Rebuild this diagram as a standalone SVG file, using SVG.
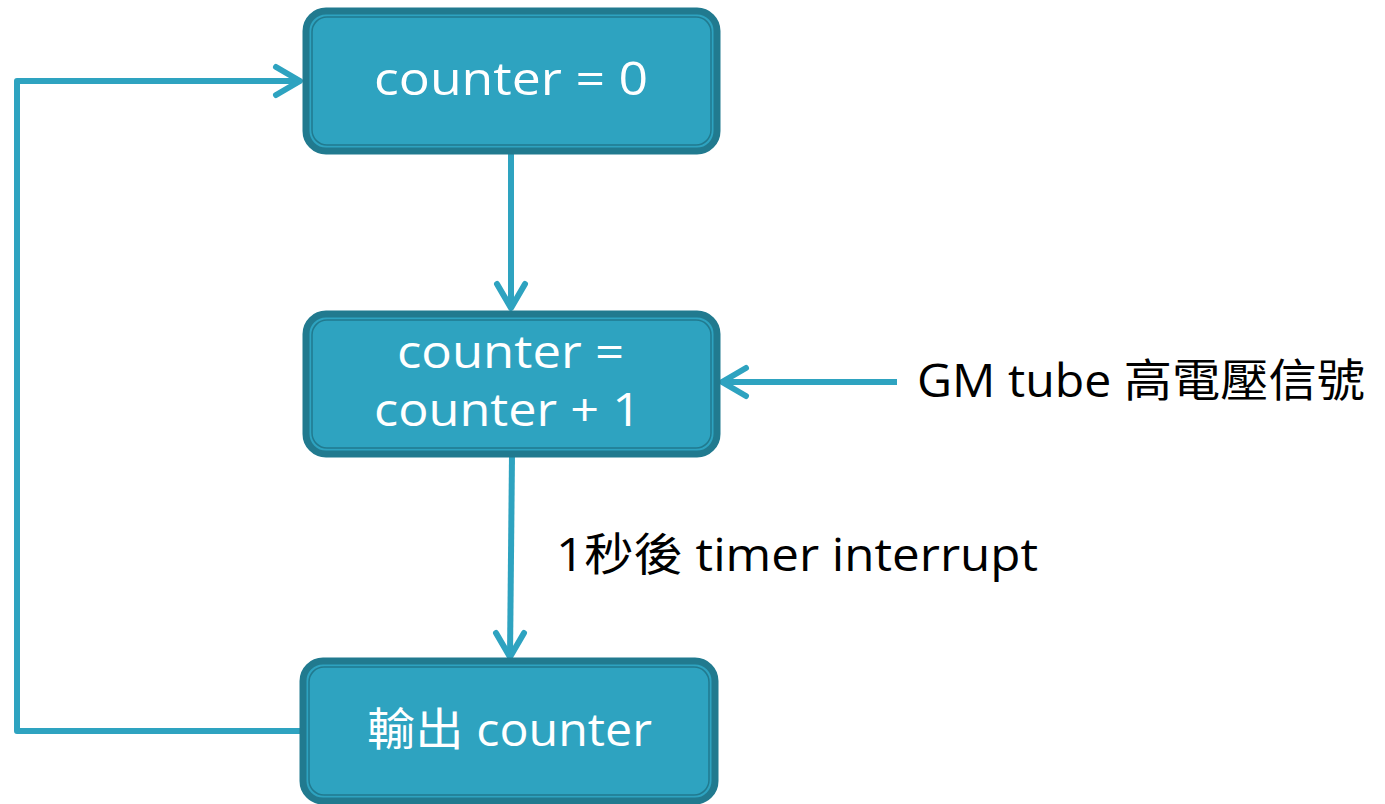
<svg xmlns="http://www.w3.org/2000/svg" width="1385" height="804" viewBox="0 0 1385 804">
<style>
.box{fill:#2ea3c0;stroke:#217a8f;stroke-width:7}
.inner{fill:none;stroke:#217a8f;stroke-width:1.5}
.t{font-family:"Open Sans","Noto Sans CJK TC",sans-serif;font-size:45px;fill:#ffffff;text-anchor:middle}
.lbl{font-family:"Open Sans","Noto Sans CJK TC",sans-serif;font-size:45px;fill:#000000}
.ln{fill:none;stroke:#2ea3c0;stroke-width:6}
.ah{fill:none;stroke:#2ea3c0;stroke-width:6;stroke-linecap:round;stroke-linejoin:round}
</style>
<rect width="1385" height="804" fill="#ffffff"/>
<g id="connectors">
<path class="ln" d="M511,150 V308"/>
<path class="ah" d="M497,284 L511,308 L525,284"/>
<path class="ln" d="M512,455 L510,657"/>
<path class="ah" d="M496,633 L510,657 L524,633"/>
<path class="ln" d="M302,731 H17 V81 H300" stroke-linejoin="round"/>
<path class="ah" d="M276,67 L300,81 L276,95"/>
<path class="ln" d="M897,382 H722"/>
<path class="ah" d="M746,368 L722,382 L746,396"/>
</g>
<g id="node1">
<rect class="box" x="306" y="11" width="411" height="140" rx="20"/>
<rect class="inner" x="312" y="17" width="399" height="128" rx="15"/>
<text class="t" x="511" y="95" textLength="274" lengthAdjust="spacingAndGlyphs">counter = 0</text>
</g>
<g id="node2">
<rect class="box" x="306" y="314" width="411" height="140" rx="20"/>
<rect class="inner" x="312" y="320" width="399" height="128" rx="15"/>
<text class="t" x="510.5" y="368" textLength="227" lengthAdjust="spacingAndGlyphs">counter =</text>
<text class="t" x="507.5" y="426" textLength="267" lengthAdjust="spacingAndGlyphs">counter + 1</text>
</g>
<g id="node3">
<rect class="box" x="303" y="661" width="412" height="140" rx="20"/>
<rect class="inner" x="309" y="667" width="400" height="128" rx="15"/>
<text class="t" x="509.5" y="746" textLength="285" lengthAdjust="spacingAndGlyphs">輸出 counter</text>
</g>
<g id="labels">
<text class="lbl" x="917" y="397" textLength="448" lengthAdjust="spacingAndGlyphs">GM tube 高電壓信號</text>
<text class="lbl" x="556" y="571" textLength="482" lengthAdjust="spacingAndGlyphs">1秒後 timer interrupt</text>
</g>
</svg>
